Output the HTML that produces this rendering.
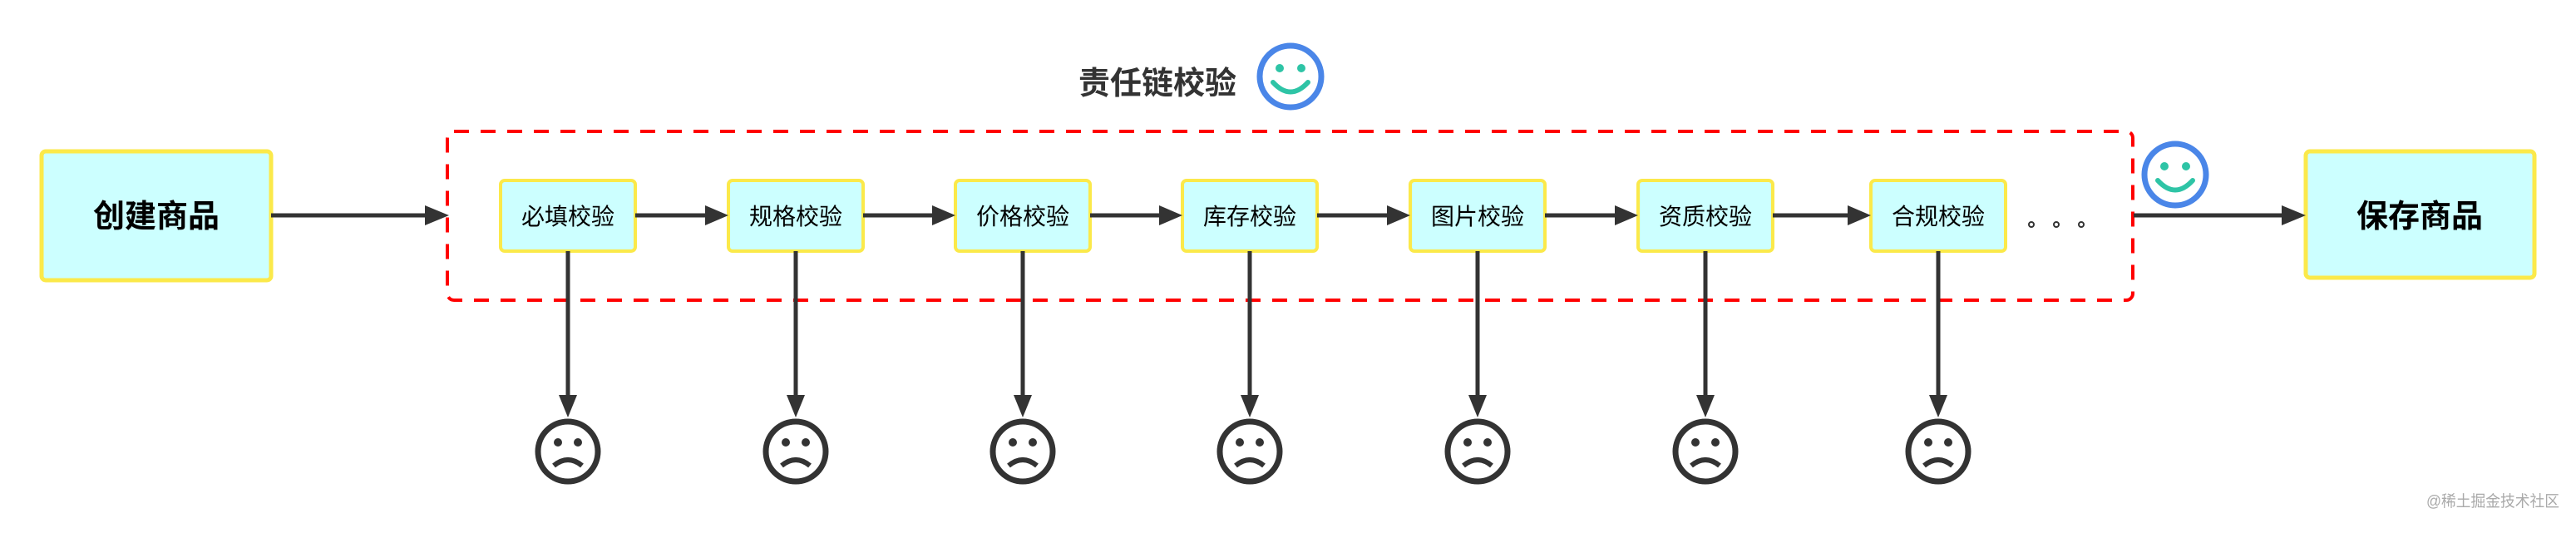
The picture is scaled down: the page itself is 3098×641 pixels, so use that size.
<!DOCTYPE html>
<html><head><meta charset="utf-8"><style>
body{margin:0;background:#fff;width:3098px;height:636px;overflow:hidden}
svg text{font-family:"Liberation Sans","Noto Sans CJK SC",sans-serif}
</style></head><body>
<svg width="3098" height="636" viewBox="0 0 3098 636" xmlns="http://www.w3.org/2000/svg">
<defs>
<g id="frown">
<circle cx="0" cy="0" r="36" fill="none" stroke="#333" stroke-width="7"/>
<circle cx="-12" cy="-11" r="5" fill="#333"/>
<circle cx="12" cy="-11" r="5" fill="#333"/>
<path d="M-17 17 Q0 3 17 17" fill="none" stroke="#333" stroke-width="6"/>
</g>
<g id="smile">
<circle cx="0" cy="0" r="37" fill="none" stroke="#4a86e8" stroke-width="7"/>
<circle cx="-13" cy="-10" r="5" fill="#2ec4a6"/>
<circle cx="13" cy="-10" r="5" fill="#2ec4a6"/>
<path d="M-21 7 Q0 30 21 7" fill="none" stroke="#2ec4a6" stroke-width="6" stroke-linecap="round"/>
</g>
</defs>

<rect x="538" y="158" width="2027" height="203" rx="8" fill="none" stroke="#f00" stroke-width="4" stroke-dasharray="18,14"/>

<text x="1297" y="113" font-size="38" font-weight="bold" fill="#333">责任链校验</text>
<use href="#smile" x="1552" y="92"/>
<use href="#smile" x="2616" y="210"/>

<rect x="50" y="182" width="276" height="155" rx="5" fill="#ccffff" stroke="#fbe94a" stroke-width="5"/>
<text x="188" y="273" font-size="38" font-weight="bold" text-anchor="middle" fill="#000">创建商品</text>
<rect x="2773" y="182" width="275" height="152" rx="5" fill="#ccffff" stroke="#fbe94a" stroke-width="5"/>
<text x="2910" y="273" font-size="38" font-weight="bold" text-anchor="middle" fill="#000">保存商品</text>

<line x1="326" y1="259" x2="515" y2="259" stroke="#333" stroke-width="5"/>
<polygon points="511,247 540,259 511,271" fill="#333"/>
<line x1="2566" y1="259" x2="2748" y2="259" stroke="#333" stroke-width="5"/>
<polygon points="2744,247 2773,259 2744,271" fill="#333"/>

<g font-size="28" fill="#000" text-anchor="middle">
<rect x="602" y="217" width="162" height="85" rx="5" fill="#ccffff" stroke="#fbe94a" stroke-width="4"/>
<text x="683" y="270">必填校验</text>
<rect x="876" y="217" width="162" height="85" rx="5" fill="#ccffff" stroke="#fbe94a" stroke-width="4"/>
<text x="957" y="270">规格校验</text>
<rect x="1149" y="217" width="162" height="85" rx="5" fill="#ccffff" stroke="#fbe94a" stroke-width="4"/>
<text x="1230" y="270">价格校验</text>
<rect x="1422" y="217" width="162" height="85" rx="5" fill="#ccffff" stroke="#fbe94a" stroke-width="4"/>
<text x="1503" y="270">库存校验</text>
<rect x="1696" y="217" width="162" height="85" rx="5" fill="#ccffff" stroke="#fbe94a" stroke-width="4"/>
<text x="1777" y="270">图片校验</text>
<rect x="1970" y="217" width="162" height="85" rx="5" fill="#ccffff" stroke="#fbe94a" stroke-width="4"/>
<text x="2051" y="270">资质校验</text>
<rect x="2250" y="217" width="162" height="85" rx="5" fill="#ccffff" stroke="#fbe94a" stroke-width="4"/>
<text x="2331" y="270">合规校验</text>
</g>
<g fill="none" stroke="#333" stroke-width="2">
<circle cx="2443" cy="270" r="3"/><circle cx="2473" cy="270" r="3"/><circle cx="2503" cy="270" r="3"/>
</g>

<g stroke="#333" stroke-width="5">
<line x1="764" y1="259" x2="852" y2="259"/>
<line x1="1038" y1="259" x2="1125" y2="259"/>
<line x1="1311" y1="259" x2="1398" y2="259"/>
<line x1="1584" y1="259" x2="1672" y2="259"/>
<line x1="1858" y1="259" x2="1946" y2="259"/>
<line x1="2132" y1="259" x2="2226" y2="259"/>
</g>
<g fill="#333">
<polygon points="848,247 876,259 848,271"/>
<polygon points="1121,247 1149,259 1121,271"/>
<polygon points="1394,247 1422,259 1394,271"/>
<polygon points="1668,247 1696,259 1668,271"/>
<polygon points="1942,247 1970,259 1942,271"/>
<polygon points="2222,247 2250,259 2222,271"/>
</g>

<g stroke="#333" stroke-width="5">
<line x1="683" y1="302" x2="683" y2="480"/>
<line x1="957" y1="302" x2="957" y2="480"/>
<line x1="1230" y1="302" x2="1230" y2="480"/>
<line x1="1503" y1="302" x2="1503" y2="480"/>
<line x1="1777" y1="302" x2="1777" y2="480"/>
<line x1="2051" y1="302" x2="2051" y2="480"/>
<line x1="2331" y1="302" x2="2331" y2="480"/>
</g>
<g fill="#333">
<polygon points="672,475 683,502 694,475"/>
<polygon points="946,475 957,502 968,475"/>
<polygon points="1219,475 1230,502 1241,475"/>
<polygon points="1492,475 1503,502 1514,475"/>
<polygon points="1766,475 1777,502 1788,475"/>
<polygon points="2040,475 2051,502 2062,475"/>
<polygon points="2320,475 2331,502 2342,475"/>
</g>
<use href="#frown" x="683" y="543"/>
<use href="#frown" x="957" y="543"/>
<use href="#frown" x="1230" y="543"/>
<use href="#frown" x="1503" y="543"/>
<use href="#frown" x="1777" y="543"/>
<use href="#frown" x="2051" y="543"/>
<use href="#frown" x="2331" y="543"/>

<text x="2918" y="609" font-size="19" fill="#aaa" textLength="160" lengthAdjust="spacingAndGlyphs">@稀土掘金技术社区</text>
</svg>
</body></html>
